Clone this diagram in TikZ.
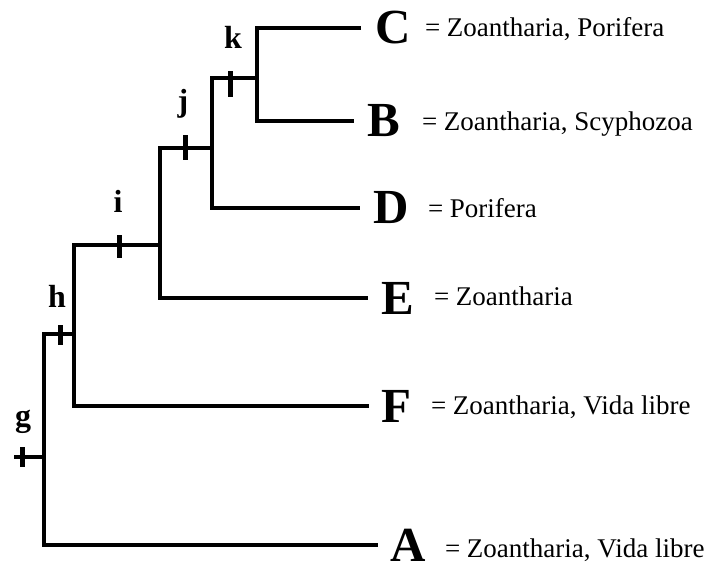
\documentclass[tikz,border=0pt]{standalone}
\usepackage{fontspec}
\setmainfont{Liberation Serif}
\begin{document}
\begin{tikzpicture}[x=1pt,y=-1pt,
  branch/.style={line width=4pt, line join=miter, line cap=butt},
  leaf/.style={inner sep=0pt, outer sep=0pt, anchor=west,
    font=\fontsize{49}{49}\selectfont\bfseries},
  desc/.style={inner sep=0pt, outer sep=0pt, anchor=base west,
    font=\fontsize{27}{27}\selectfont},
  clade/.style={inner sep=0pt, outer sep=0pt, anchor=base,
    font=\fontsize{32}{32}\selectfont\bfseries},
  tickmark/.style={fill=black, draw=none, inner sep=0pt, outer sep=0pt,
    minimum width=5pt, minimum height=22pt}]
\useasboundingbox (0,0) rectangle (709,570);

% leaves
\node[leaf] (C) at (375,28) {C};
\node[leaf] (B) at (367,121) {B};
\node[leaf] (D) at (373,208) {D};
\node[leaf] (E) at (381,298) {E};
\node[leaf] (F) at (381,406) {F};
\node[leaf] (A) at (390,545) {A};

% descriptions
\node[desc] (tC) at (425,36) {= Zoantharia, Porifera};
\node[desc] (tB) at (422,130) {= Zoantharia, Scyphozoa};
\node[desc] (tD) at (428,217) {= Porifera};
\node[desc] (tE) at (434,305) {= Zoantharia};
\node[desc] (tF) at (431,414) {= Zoantharia, Vida libre};
\node[desc] (tA) at (445,557) {= Zoantharia, Vida libre};

% internal nodes
\coordinate (k) at (257,78);
\coordinate (j) at (212,148);
\coordinate (i) at (160,245);
\coordinate (h) at (74,334);
\coordinate (g) at (44,457);
\coordinate (root) at (14,457);

% branches
\draw[branch, shorten <=14pt, shorten >=13pt] (C.west) -| (k) |- (B.west);
\draw[branch, shorten >=13pt] (k) -| (j) |- (D.west);
\draw[branch, shorten >=13pt] (j) -| (i) |- (E.west);
\draw[branch, shorten >=12pt] (i) -| (h) |- (F.west);
\draw[branch, shorten >=12pt] (h) -| (g) |- (A.west);
\draw[branch] (g) -- (root);

% character ticks
\node[tickmark, minimum height=26pt] (tk) at (230,84) {};
\node[tickmark, minimum height=25pt] (tj) at (185,147) {};
\node[tickmark, minimum height=23pt] (ti) at (119,246) {};
\node[tickmark, minimum height=20pt] (th) at (60,335) {};
\node[tickmark, minimum height=20pt] (tg) at (22,457) {};

% clade labels
\node[clade] (lk) at (233,48) {k};
\node[clade] (lj) at (183,111) {j};
\node[clade] (li) at (118,212) {i};
\node[clade] (lh) at (57,307) {h};
\node[clade] (lg) at (23,426) {g};
\end{tikzpicture}
\end{document}
